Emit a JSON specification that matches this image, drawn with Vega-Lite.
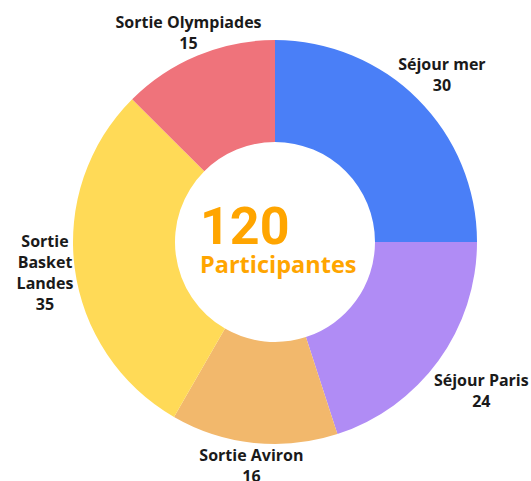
{
  "$schema": "https://vega.github.io/schema/vega-lite/v6.json",
  "width": 512,
  "height": 478,
  "autosize": {"type": "none"},
  "padding": {"left": 19, "top": 3, "right": 0, "bottom": 0},
  "background": "white",
  "config": {"view": {"stroke": null}, "text": {"font": "Open Sans", "fontWeight": "bold", "fontSize": 16, "lineHeight": 21, "align": "center", "baseline": "middle"}},
  "layer": [
    {
      "data": {"values": [
        {"category": "Séjour mer", "value": 30, "order": 1, "label": ["Séjour mer", "30"]},
        {"category": "Séjour Paris", "value": 24, "order": 2, "label": ["Séjour Paris", "24"]},
        {"category": "Sortie Aviron", "value": 16, "order": 3, "label": ["Sortie Aviron", "16"]},
        {"category": "Sortie Basket Landes", "value": 35, "order": 4, "label": ["Sortie", "Basket", "Landes", "35"]},
        {"category": "Sortie Olympiades", "value": 15, "order": 5, "label": ["Sortie Olympiades", "15"]}
      ]},
      "encoding": {
        "theta": {"field": "value", "type": "quantitative", "stack": true},
        "order": {"field": "order", "type": "quantitative"},
        "color": {
          "field": "category", "type": "nominal", "legend": null,
          "scale": {
            "domain": ["Séjour mer", "Séjour Paris", "Sortie Aviron", "Sortie Basket Landes", "Sortie Olympiades"],
            "range": ["#4A7FF7", "#B08CF5", "#F2B86C", "#FFDA57", "#EF737B"]
          }
        }
      },
      "layer": [
        {"mark": {"type": "arc", "innerRadius": 100, "outerRadius": 202}},
        {
          "mark": {"type": "text", "radius": 236, "dy": -10.5},
          "encoding": {"text": {"condition": {"test": "datum.order == 1", "field": "label"}, "value": ""}, "color": {"value": "#1a1a1a"}}
        },
        {
          "mark": {"type": "text", "radius": 255, "dy": -10.5},
          "encoding": {"text": {"condition": {"test": "datum.order == 2", "field": "label"}, "value": ""}, "color": {"value": "#1a1a1a"}}
        },
        {
          "mark": {"type": "text", "radius": 226, "dy": -10.5},
          "encoding": {"text": {"condition": {"test": "datum.order == 3 || datum.order == 5", "field": "label"}, "value": ""}, "color": {"value": "#1a1a1a"}}
        },
        {
          "mark": {"type": "text", "radius": 232, "dy": -30},
          "encoding": {"text": {"condition": {"test": "datum.order == 4", "field": "label"}, "value": ""}, "color": {"value": "#1a1a1a"}}
        }
      ]
    },
    {
      "data": {"values": [{"total": 120, "caption": "Participantes"}]},
      "encoding": {"theta": {"field": "total", "type": "quantitative"}},
      "layer": [
        {
          "mark": {"type": "text", "radius": 0, "align": "left", "baseline": "alphabetic", "dx": -75, "dy": 2, "font": "Roboto", "fontWeight": "bold", "fontSize": 52, "color": "#FFA500"},
          "encoding": {"text": {"field": "total", "type": "quantitative"}}
        },
        {
          "mark": {"type": "text", "radius": 0, "align": "left", "baseline": "alphabetic", "dx": -75, "dy": 31, "font": "Open Sans", "fontWeight": "bold", "fontSize": 23.5, "color": "#FFA500"},
          "encoding": {"text": {"field": "caption", "type": "nominal"}}
        }
      ]
    }
  ]
}
